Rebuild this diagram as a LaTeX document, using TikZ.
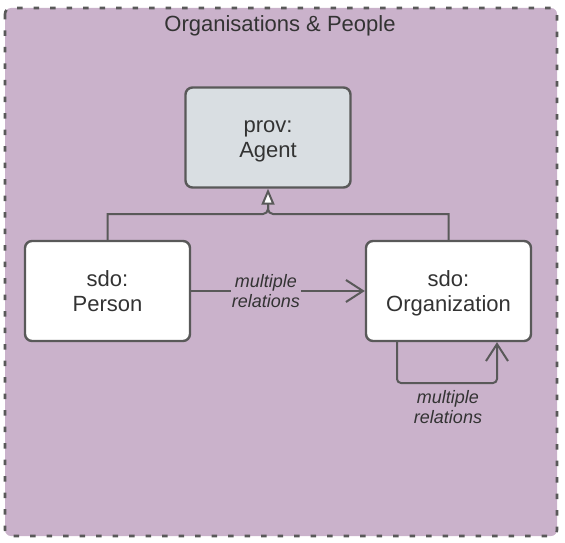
\documentclass[tikz,border=0pt]{standalone}
\usepackage{fontspec}
\setmainfont{Liberation Sans}
\usetikzlibrary{arrows.meta}
\definecolor{grp}{HTML}{CAB2CB}
\definecolor{agentfill}{HTML}{D9DEE2}
\definecolor{edge}{HTML}{595959}
\definecolor{txt}{HTML}{333333}
\newcommand{\topstrut}{\rule{0pt}{23pt}}
\begin{document}
\begin{tikzpicture}[x=1pt,y=-1pt,
  classbox/.style={draw=edge,line width=2.4pt,rounded corners=7pt,minimum width=165pt,minimum height=100pt,align=center,text=txt,font=\fontsize{22}{25}\selectfont,inner sep=0pt},
  conn/.style={draw=edge,line width=2pt},
  barb/.style={-{Straight Barb[length=17pt,width=22pt,line width=2pt]}},
  lbl/.style={text=txt,font=\fontsize{18}{20}\selectfont\itshape,align=center,inner sep=1pt}]
\useasboundingbox (0,0) rectangle (565,543);
\draw[fill=grp,draw=edge,line width=2.6pt,dash pattern=on 5.5pt off 11pt,rounded corners=6pt] (5,8) rectangle (557,536);
\node[text=txt,font=\fontsize{22}{25}\selectfont] (title) at (280,25.5) {Organisations \& People};
\node[classbox,fill=agentfill] (agent) at (268,137.5) {\topstrut prov:\\\strut Agent};
\node[classbox,fill=white] (person) at (107.5,291) {\topstrut sdo:\\\strut Person};
\node[classbox,fill=white] (org) at (448.5,291) {\topstrut sdo:\\\strut Organization};
\coordinate (j) at (268,214);
\coordinate (jl) at (262,214);
\coordinate (jr) at (274,214);
\coordinate (ju) at (268,205);
\draw[conn] (person.north) |- (jl) [rounded corners=5pt] -- (j) -- (ju);
\draw[conn] (org.north) |- (jr) [rounded corners=5pt] -- (j) -- (ju);
\draw[conn,-{Triangle[open,fill=white,width=13pt,length=16pt]}] (ju) -- (agent.south);
\draw[conn,barb] (person.east) -- (org.west)
  node[lbl,pos=0.43,fill=grp] (l1) {multiple\\relations};
\coordinate (a) at (397,383);
\coordinate (b) at (497,383);
\draw[conn,rounded corners=4pt,barb] (org.south -| a) -- (a) -- (b) -- (org.south -| b);
\node[lbl] (l2) at (448,407) {multiple\\relations};
\end{tikzpicture}
\end{document}
